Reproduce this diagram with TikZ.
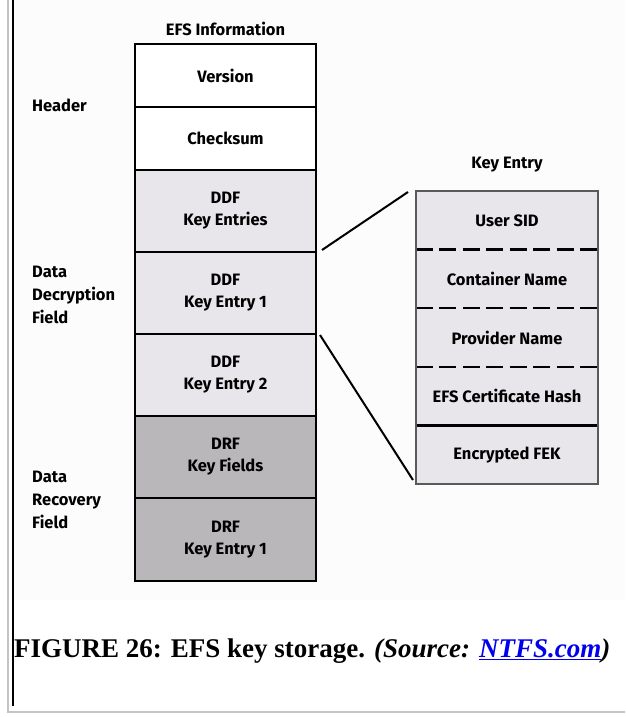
\documentclass[tikz,border=0pt]{standalone}
\usepackage{fontspec}
\setmainfont{Liberation Serif}
\newfontfamily\diagfont{Fira Sans}
\usetikzlibrary{positioning,calc}
\definecolor{DdfGray}{HTML}{E8E6EA}
\definecolor{DrfGray}{HTML}{B9B7B9}
\definecolor{PageGray}{HTML}{FCFCFC}
\definecolor{RuleGray}{HTML}{C4C4C4}
\definecolor{EdgeGray}{HTML}{5A5A5A}
\definecolor{LinkBlue}{HTML}{0000EE}
\tikzset{
  % Box styles
  cellbox/.style={rectangle, draw=black, line width=2.5pt, minimum width=181pt, inner sep=0pt, outer sep=0pt, font=\diagfont\bfseries\fontsize{16.5}{22}\selectfont, align=center},
  fieldbox/.style={rectangle, minimum width=182pt, minimum height=58.6pt, inner sep=0pt, outer sep=0pt, font=\diagfont\bfseries\fontsize{16.5}{20}\selectfont, align=center},
  sidelabel/.style={anchor=west, inner sep=0pt, font=\diagfont\bfseries\fontsize{16.5}{23}\selectfont, align=left},
  titlelabel/.style={font=\diagfont\bfseries\fontsize{16.5}{20}\selectfont},
  % Line styles
  link/.style={line width=2pt, black},
  divider/.style={line width=2.5pt, black, dash pattern=on 17pt off 6.43pt}
}
\begin{document}
\begin{tikzpicture}[x=1pt, y=-1pt]
  \useasboundingbox (0,0) rectangle (625,717);

  % Page frame
  \fill[PageGray] (13,0) rectangle (625,600);
  \draw[RuleGray, line width=1.5pt] (8,0) -- (8,712) -- (625,712);
  \draw[black, line width=1.5pt] (13,0) -- (13,706);

  % EFS information column
  \node[titlelabel] (efstitle) at (225.5,29) {EFS Information};
  \node[cellbox, fill=white, minimum height=63pt, anchor=north] (version) at (225.5,44) {Version};
  \node[cellbox, fill=white, minimum height=63pt, below=0pt of version] (checksum) {Checksum};
  \node[cellbox, fill=DdfGray, minimum height=82pt, below=0pt of checksum] (ddfentries) {DDF\\Key Entries};
  \node[cellbox, fill=DdfGray, minimum height=82pt, below=0pt of ddfentries] (ddfone) {DDF\\Key Entry 1};
  \node[cellbox, fill=DdfGray, minimum height=82pt, below=0pt of ddfone] (ddftwo) {DDF\\Key Entry 2};
  \node[cellbox, fill=DrfGray, minimum height=82pt, below=0pt of ddftwo] (drffields) {DRF\\Key Fields};
  \node[cellbox, fill=DrfGray, minimum height=83pt, below=0pt of drffields] (drfone) {DRF\\Key Entry 1};

  % Side labels
  \node[sidelabel] (header) at (32,105) {Header};
  \node[sidelabel] (ddflabel) at (32,295) {Data\\Decryption\\Field};
  \node[sidelabel] (drflabel) at (32,500) {Data\\Recovery\\Field};

  % Key entry detail
  \node[titlelabel] (keytitle) at (507,165) {Key Entry};
  \fill[DdfGray] (416,191) rectangle (598,484);
  \node[fieldbox, anchor=north] (usersid) at (507,191) {User SID};
  \node[fieldbox, below=0pt of usersid] (container) {Container Name};
  \node[fieldbox, below=0pt of container] (provider) {Provider Name};
  \node[fieldbox, below=0pt of provider] (certhash) {EFS Certificate Hash};
  \node[fieldbox, below=0pt of certhash] (fek) {Encrypted FEK};
  \draw[divider] (usersid.south west) -- (usersid.south east);
  \draw[divider] (container.south west) -- (container.south east);
  \draw[divider] (provider.south west) -- (provider.south east);
  \draw[line width=2.5pt] (certhash.south west) -- (certhash.south east);
  \draw[EdgeGray, line width=1.5pt] (usersid.north west) rectangle (fek.south east);

  % Connectors
  \draw[link] ($(ddfone.north east)+(6,-2)$) -- ($(usersid.north west)+(-8,1)$);
  \draw[link] ($(ddftwo.north east)+(4,1)$) -- ($(fek.south west)+(-3,-4)$);

  % Caption
  \node[anchor=west, inner sep=0pt, font=\bfseries\fontsize{27}{32}\selectfont] (caption) at (14,651)
    {FIGURE 26: EFS key storage. \textit{(Source: \textcolor{LinkBlue}{\underline{NTFS.com}})}};
\end{tikzpicture}
\end{document}
